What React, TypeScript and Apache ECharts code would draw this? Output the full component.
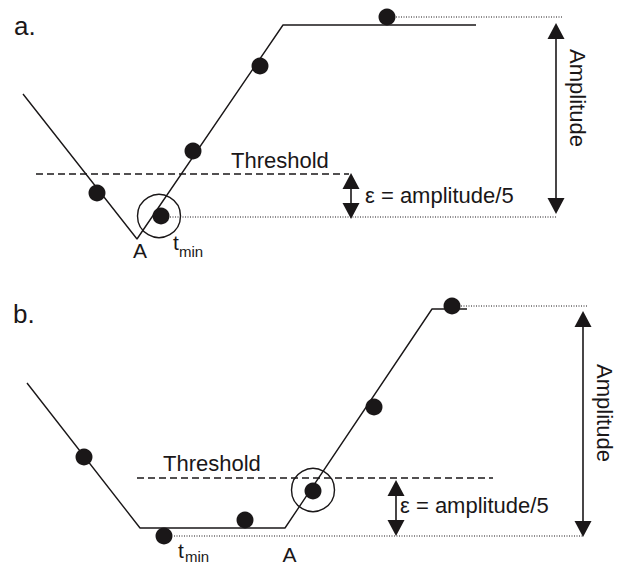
import React, { useEffect, useRef } from "react";
import * as echarts from "echarts";

const W = 619;
const H = 567;
const INK = "#1a1718";
const FONT = "'Liberation Sans', Arial, sans-serif";

// Coordinates in a page-like frame: x to the right, y downwards (y axis is inverted)
// ---- Panel a ----
const signalA = [[23, 94], [137, 239], [283, 25], [476, 25]];
const samplesA = [[97, 193], [161, 216], [193, 151], [260, 66], [387, 17]];
const circledA = [[159, 216]];
const thresholdA = [[36, 174], [349, 174]];
const refTopA = [[396, 17], [562, 17]];
const refBottomA = [[170, 217], [557, 217]];
const epsArrowA = [351, 173, 219]; // x, top tip, bottom tip
const ampArrowA = [556, 23, 214];

// ---- Panel b ----
const signalB = [[27, 383], [140, 528], [285, 528], [432, 309], [467, 309]];
const samplesB = [[84, 457], [164, 536], [245, 520], [313, 491], [374, 407], [452, 306]];
const circledB = [[313, 490]];
const thresholdB = [[137, 478], [493, 478]];
const refTopB = [[461, 306], [587, 306]];
const refBottomB = [[174, 536], [583, 536]];
const epsArrowB = [396, 480, 536];
const ampArrowB = [583, 311, 537];

const HEAD_W = 17;
const HEAD_H = 16;

function lineSeries(data: number[][], width: number, type: any, z = 2) {
  return {
    type: "line",
    data,
    symbol: "none",
    silent: true,
    z,
    lineStyle: { color: INK, width, type, opacity: 1 },
  };
}

function arrowShaft(a: number[]) {
  return lineSeries([[a[0], a[1] + HEAD_H / 2], [a[0], a[2] - HEAD_H / 2]], 1.6, "solid", 3);
}

function arrowHeads(arrows: number[][]) {
  const data: any[] = [];
  arrows.forEach((a) => {
    data.push({ value: [a[0], a[1] + HEAD_H / 2], symbolRotate: 0 });
    data.push({ value: [a[0], a[2] - HEAD_H / 2], symbolRotate: 180 });
  });
  return {
    type: "scatter",
    data,
    symbol: "triangle",
    symbolSize: [HEAD_W, HEAD_H],
    silent: true,
    z: 4,
    itemStyle: { color: INK, opacity: 1 },
  };
}

function txt(text: string, x: number, y: number, size: number, align = "left", rotation = 0) {
  return {
    type: "text",
    x,
    y,
    rotation,
    silent: true,
    style: {
      text,
      x: 0,
      y: 0,
      fill: INK,
      font: `${size}px ${FONT}`,
      align,
      verticalAlign: "middle",
    },
  };
}

export default function App() {
  const ref = useRef<HTMLDivElement>(null);

  useEffect(() => {
    if (!ref.current) return;
    const chart = echarts.init(ref.current, undefined, { renderer: "svg" });
    const option: any = {
      animation: false,
      backgroundColor: "#ffffff",
      grid: { left: 0, top: 0, right: 0, bottom: 0 },
      xAxis: { type: "value", min: 0, max: W, show: false },
      yAxis: { type: "value", min: 0, max: H, inverse: true, show: false },
      series: [
        lineSeries(signalA, 1.4, "solid"),
        lineSeries(signalB, 1.4, "solid"),
        lineSeries(thresholdA, 1.3, [7, 4]),
        lineSeries(thresholdB, 1.3, [7, 4]),
        lineSeries(refTopA, 1, [1, 1.5]),
        lineSeries(refBottomA, 1, [1, 1.5]),
        lineSeries(refTopB, 1, [1, 1.5]),
        lineSeries(refBottomB, 1, [1, 1.5]),
        arrowShaft(epsArrowA),
        arrowShaft(ampArrowA),
        arrowShaft(epsArrowB),
        arrowShaft(ampArrowB),
        arrowHeads([epsArrowA, ampArrowA, epsArrowB, ampArrowB]),
        {
          type: "scatter",
          data: [...samplesA, ...samplesB],
          symbol: "circle",
          symbolSize: 17,
          silent: true,
          z: 5,
          itemStyle: { color: INK, opacity: 1 },
        },
        {
          type: "scatter",
          data: [...circledA, ...circledB],
          symbol: "circle",
          symbolSize: 43,
          silent: true,
          z: 6,
          itemStyle: { color: "rgba(0,0,0,0)", borderColor: INK, borderWidth: 1.4, opacity: 1 },
        },
      ],
      graphic: [
        txt("a.", 14, 26, 26),
        txt("b.", 13, 314, 26),
        txt("Threshold", 231, 160.5, 22),
        txt("Threshold", 163, 463.5, 22),
        txt("ε = amplitude/5", 365, 195.5, 22),
        txt("ε = amplitude/5", 400, 505.5, 22),
        txt("Amplitude", 577, 98, 22, "center", -Math.PI / 2),
        txt("Amplitude", 604, 413, 22, "center", -Math.PI / 2),
        txt("A", 140, 250.6, 21, "center"),
        txt("A", 289.5, 554.6, 21, "center"),
        txt("t", 173, 242.6, 21),
        txt("min", 179, 251.8, 15),
        txt("t", 178, 550.5, 21),
        txt("min", 185, 556.5, 15),
      ],
    };
    chart.setOption(option);
    return () => chart.dispose();
  }, []);

  return (
    <div
      ref={ref}
      style={{ position: "fixed", left: 0, top: 0, width: W, height: H, background: "#fff" }}
    />
  );
}
